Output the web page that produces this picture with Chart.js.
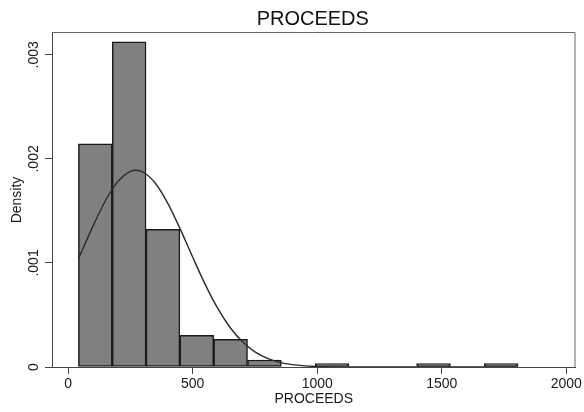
<!DOCTYPE html>
<html>
<head>
<meta charset="utf-8">
<title>PROCEEDS</title>
<script src="https://cdn.jsdelivr.net/npm/chart.js@4/dist/chart.umd.min.js"></script>
<style>
  html, body { margin: 0; padding: 0; background: #fff; }
  #wrap { width: 584px; height: 412px; }
</style>
</head>
<body>
<div id="wrap"><canvas id="chart" width="584" height="412"></canvas></div>
<script>
/* PROCEEDS histogram with normal density overlay */
const BIN_MID = [108.9, 244.7, 380.5, 516.3, 652.1, 787.9, 923.7, 1059.5, 1195.3, 1331.1, 1466.9, 1602.7, 1738.5];
const DENSITY = [0.002144, 0.003125, 0.001323, 0.000304, 0.000265, 0.0000676, 0, 0.0000338, 0, 0, 0.0000338, 0, 0.0000338];

const CURVE_X = [41, 100, 150, 200, 250, 272, 300, 350, 400, 450, 500, 550, 600, 650, 700, 750, 800, 850, 900, 950, 1000, 1100, 1200, 1400, 1600, 1806];
const CURVE_Y = [0.001039, 0.001356, 0.0016, 0.001784, 0.001881, 0.001891, 0.001874, 0.001766, 0.001573, 0.001325, 0.001055, 0.000794, 0.000565, 0.00038, 0.000242, 0.000145, 0.0000826, 0.0000444, 0.0000225, 0.0000108, 0.0000049, 0.0000006, 0, 0, 0, 0];

const X_TICKS = [0, 500, 1000, 1500, 2000];
const Y_TICKS = [0, 0.001, 0.002, 0.003];
const X_MIN = -65, X_MAX = 2037;
const Y_MAX = 0.00321;

const FONT = "'Liberation Sans', Arial, Helvetica, sans-serif";
const AXIS = "#444";

function yLabel(v) {
  return v === 0 ? "0" : String(v).replace(/^0/, "");
}

// Stata-style extras: outer frame, rotated y tick labels, title over plot region
const stataFrame = {
  id: "stataFrame",
  afterDraw(chart) {
    const { ctx, chartArea: a, scales } = chart;
    ctx.save();
    ctx.strokeStyle = "#666";
    ctx.lineWidth = 1;
    ctx.beginPath();
    ctx.moveTo(a.left, a.top - 0.5);
    ctx.lineTo(a.right - 0.5, a.top - 0.5);
    ctx.lineTo(a.right - 0.5, a.bottom);
    ctx.stroke();

    ctx.fillStyle = "#1a1a1a";
    ctx.font = `14px ${FONT}`;
    ctx.textAlign = "center";
    ctx.textBaseline = "middle";
    Y_TICKS.forEach((v) => {
      const y = scales.y.getPixelForValue(v);
      ctx.save();
      ctx.translate(34, y);
      ctx.rotate(-Math.PI / 2);
      ctx.fillText(yLabel(v), 0, 0);
      ctx.restore();
    });

    ctx.fillStyle = "#111";
    ctx.font = `20px ${FONT}`;
    ctx.textBaseline = "alphabetic";
    ctx.fillText("PROCEEDS", (a.left + a.right) / 2 - 1, 25);
    ctx.restore();
  },
};

new Chart(document.getElementById("chart"), {
  type: "bar",
  data: {
    datasets: [
      {
        type: "line",
        order: 0,
        data: CURVE_X.map((x, i) => ({ x, y: CURVE_Y[i] })),
        borderColor: "#2a2a2a",
        borderWidth: 1.4,
        pointRadius: 0,
        cubicInterpolationMode: "monotone",
        fill: false,
      },
      {
        type: "bar",
        order: 1,
        data: BIN_MID.map((x, i) => ({ x, y: DENSITY[i] })),
        backgroundColor: "#808080",
        borderColor: "#1a1a1a",
        borderWidth: 1.5,
        borderSkipped: false,
        barPercentage: 1,
        categoryPercentage: 1,
      },
    ],
  },
  options: {
    responsive: false,
    animation: false,
    devicePixelRatio: 1,
    layout: { padding: { top: 33, right: 7, left: 0, bottom: 0 } },
    plugins: { legend: { display: false }, tooltip: { enabled: false }, title: { display: false } },
    scales: {
      x: {
        type: "linear",
        min: X_MIN,
        max: X_MAX,
        offset: false,
        afterBuildTicks: (s) => { s.ticks = X_TICKS.map((v) => ({ value: v })); },
        afterFit: (s) => { s.height = 45; },
        grid: { display: true, drawOnChartArea: false, drawTicks: true, tickLength: 7, color: AXIS, offset: false },
        border: { display: true, color: AXIS, width: 1 },
        ticks: { font: { family: FONT, size: 14 }, color: "#1a1a1a", padding: 2, maxRotation: 0, autoSkip: false, callback: (v) => String(v) },
        title: { display: true, text: "PROCEEDS", font: { family: FONT, size: 14 }, color: "#1a1a1a", padding: { top: 0, bottom: 4 } },
      },
      y: {
        type: "linear",
        min: 0,
        max: Y_MAX,
        afterBuildTicks: (s) => { s.ticks = Y_TICKS.map((v) => ({ value: v })); },
        afterFit: (s) => { s.width = 52; },
        grid: { display: true, drawOnChartArea: false, drawTicks: true, tickLength: 7, color: AXIS },
        border: { display: true, color: AXIS, width: 1 },
        ticks: { display: false },
        title: { display: true, text: "Density", font: { family: FONT, size: 14 }, color: "#1a1a1a", padding: { top: 9, bottom: 9 } },
      },
    },
  },
  plugins: [stataFrame],
});
</script>
</body>
</html>
